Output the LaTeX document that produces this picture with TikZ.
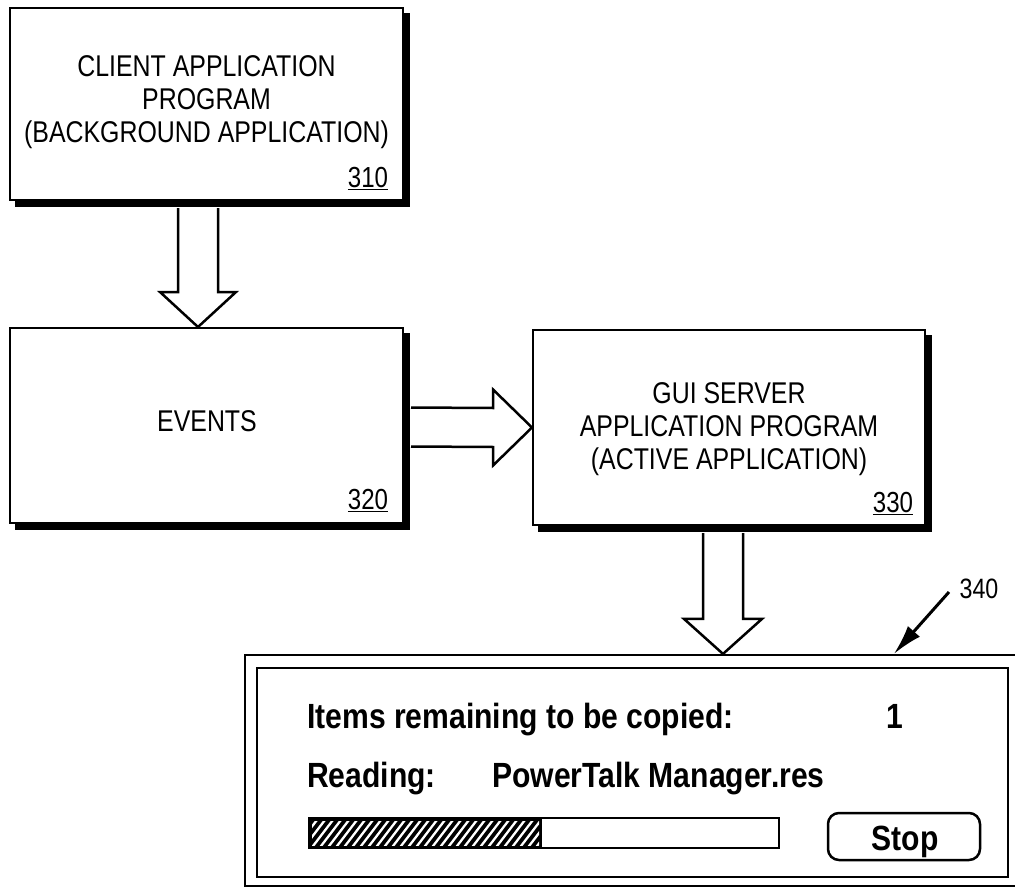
\documentclass[tikz,border=0pt]{standalone}
\usepackage{fontspec}
\setmainfont{Liberation Sans}[FakeStretch=0.83]
\newfontfamily\winfont{Liberation Sans}[FakeStretch=0.86]
\usetikzlibrary{arrows.meta,calc,shadows}
\begin{document}
\begin{tikzpicture}[x=1pt,y=-1pt,
  box/.style={draw, line width=2pt, fill=white, inner sep=0pt,
    copy shadow={shadow xshift=6pt, shadow yshift=-6pt, fill=black, draw=black, line width=2pt}},
  boxtext/.style={font=\fontsize{30}{33}\selectfont, align=center, inner sep=0pt},
  refnum/.style={font=\fontsize{29}{30}\selectfont, inner sep=0pt},
  blockarrow/.style={draw, line width=2.5pt, fill=white, line join=miter},
  wintext/.style={font=\winfont\bfseries\fontsize{35}{40}\selectfont, inner sep=0pt},
  frame/.style={draw, line width=2.2pt, inner sep=0pt},
]
\useasboundingbox (0,0) rectangle (1015,888);

% boxes
\node[box, minimum width=393pt, minimum height=192pt] (b310) at (206.5,104) {};
\node[boxtext] (t310) at (206.5,102) {CLIENT APPLICATION\\PROGRAM\\(BACKGROUND APPLICATION)};
\node[refnum] (n310) at ($(b310.south east)+(-36,-22)$) {\underline{310}};

\node[box, minimum width=393pt, minimum height=195pt] (b320) at (206.5,425.5) {};
\node[boxtext] (t320) at (207,421) {EVENTS};
\node[refnum] (n320) at ($(b320.south east)+(-36,-23)$) {\underline{320}};

\node[box, minimum width=392pt, minimum height=195pt] (b330) at (729,427.5) {};
\node[boxtext] (t330) at (729,429) {GUI SERVER\\APPLICATION PROGRAM\\(ACTIVE APPLICATION)};
\node[refnum] (n330) at ($(b330.south east)+(-33,-22)$) {\underline{330}};

% window
\node[frame, minimum width=775pt, minimum height=231pt] (win) at (632.5,770.5) {};
\node[frame, line width=2.5pt, minimum width=751pt, minimum height=209pt] (winin) at (632.5,772.5) {};

% block arrows
\coordinate (a1s) at ($(b310.south)+(-8.5,7)$);
\coordinate (a1e) at (a1s |- b320.north);
\draw[blockarrow] ($(a1s)+(-20,0)$) -- ($(a1e)+(-20,-35)$) -- ($(a1e)+(-38,-35)$) -- (a1e)
  -- ($(a1e)+(38,-35)$) -- ($(a1e)+(20,-35)$) -- ($(a1s)+(20,0)$);

\coordinate (a2s) at ($(b320.east)+(7,1.5)$);
\coordinate (a2e) at (b330.west);
\draw[blockarrow] ($(a2s)+(0,-19.5)$) -- ($(a2e)+(-39,-19.5)$) -- ($(a2e)+(-39,-38)$) -- (a2e)
  -- ($(a2e)+(-39,38)$) -- ($(a2e)+(-39,19.5)$) -- ($(a2s)+(0,19.5)$);

\coordinate (a3s) at ($(b330.south)+(-6,7)$);
\coordinate (a3e) at (a3s |- win.north);
\draw[blockarrow] ($(a3s)+(-20,0)$) -- ($(a3e)+(-20,-35)$) -- ($(a3e)+(-39,-35)$) -- (a3e)
  -- ($(a3e)+(39,-35)$) -- ($(a3e)+(20,-35)$) -- ($(a3s)+(20,0)$);

% 340 pointer
\node[refnum, font=\fontsize{28}{30}\selectfont] (n340) at (979,589) {340};
\coordinate (s340) at (949,592);
\coordinate (p340) at ($(win.north west)+(650,0)$);
\draw[line width=3pt, -{Latex[length=30pt,width=16pt]}] (s340) -- (p340);

% window texts
\node[wintext, anchor=base west] (items) at (307,728) {Items remaining to be copied:};
\node[wintext, anchor=base] (one) at (895,728) {1};
\node[wintext, anchor=base west] (reading) at (307,787) {Reading:};
\node[wintext, anchor=base west] (file) at (492,787) {PowerTalk Manager.res};

% progress bar
\fill (309,818) rectangle (542,848);
\begin{scope}
  \clip (312,821) rectangle (539,845);
  \foreach \x in {270,278,...,560} \draw[white, line width=2.3pt] (\x,850) -- ++(26,-34);
\end{scope}
\node[draw, line width=2.5pt, minimum width=470pt, minimum height=30pt, inner sep=0pt] (bar) at (544,833) {};

% stop button
\node[draw, line width=2.5pt, rounded corners=11pt, minimum width=152pt, minimum height=47pt, inner sep=0pt] (stop) at (904,836.5) {};
\node[wintext, anchor=base] (stoptext) at (905,850) {Stop};
\end{tikzpicture}
\end{document}
